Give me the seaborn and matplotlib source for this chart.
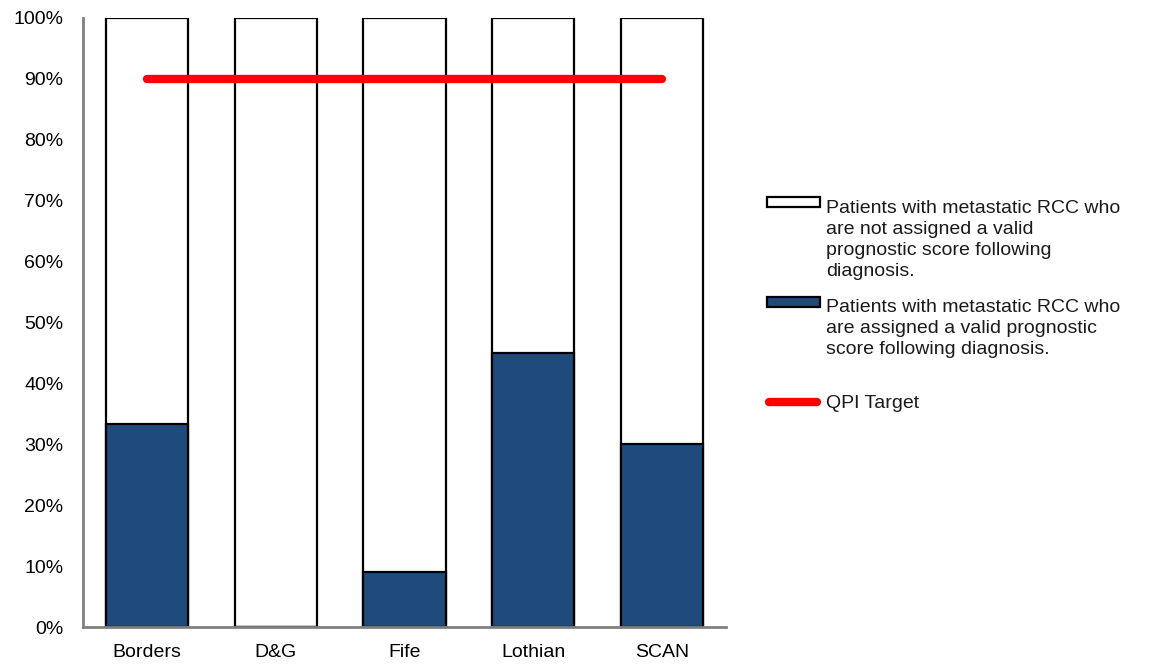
import matplotlib
matplotlib.use("Agg")
import matplotlib.pyplot as plt
import seaborn as sns
import pandas as pd
from matplotlib.patches import Rectangle
from matplotlib.lines import Line2D
from matplotlib.ticker import FuncFormatter

regions = ["Borders", "D&G", "Fife", "Lothian", "SCAN"]
assigned_pct = [33.3, 0.0, 9.1, 45.0, 30.0]
total_pct = [100, 100, 100, 100, 100]
target_pct = [90, 90, 90, 90, 90]
ytick_values = [0, 10, 20, 30, 40, 50, 60, 70, 80, 90, 100]

label_not_assigned = ("Patients with metastatic RCC who\nare not assigned a valid\n"
                      "prognostic score following\ndiagnosis.")
label_assigned = ("Patients with metastatic RCC who\nare assigned a valid prognostic\n"
                  "score following diagnosis.")
label_target = "QPI Target"

sns.set_theme(style="white")
plt.rcParams["font.family"] = ["Liberation Sans", "DejaVu Sans"]

df = pd.DataFrame({"region": regions, "assigned": assigned_pct,
                   "total": total_pct, "target": target_pct})

W, H = 1161, 664
fig = plt.figure(figsize=(W / 100, H / 100), dpi=100)
ax = fig.add_axes([83 / W, 1 - 627 / H, (726 - 83) / W, (627 - 18) / H])

blue = "#1F4A7C"
red = "#FF0000"
sns.barplot(data=df, x="region", y="total", color="white", edgecolor="black",
            linewidth=1.6, width=0.64, saturation=1, ax=ax)
sns.barplot(data=df, x="region", y="assigned", color=blue, edgecolor="black",
            linewidth=1.6, width=0.64, saturation=1, ax=ax)
sns.lineplot(data=df, x="region", y="target", color=red, linewidth=6,
             solid_capstyle="round", ax=ax)

ax.set_ylim(0, 100)
ax.set_xlim(-0.5, 4.5)
ax.set_yticks(ytick_values)
ax.yaxis.set_major_formatter(FuncFormatter(lambda v, _: f"{v:.0f}%"))
ax.set_xlabel("")
ax.set_ylabel("")
ax.tick_params(axis="both", length=0, labelsize=14, colors="black")
ax.tick_params(axis="y", pad=14)
ax.tick_params(axis="x", pad=12)
for side in ["top", "right"]:
    ax.spines[side].set_visible(False)
for side in ["left", "bottom"]:
    ax.spines[side].set_color("#808080")
    ax.spines[side].set_linewidth(2)


def fx(px):
    return px / W


def fy(py):
    return 1 - py / H


# Legend: handle sits beside the first line of each wrapped label
text_x = 826
line_pitch = 21.5
entries = [
    ("patch", "white", label_not_assigned, 202, 212),
    ("patch", blue, label_assigned, 302, 311),
    ("line", red, label_target, 402, 408),
]
for kind, colour, label, hy, first_baseline in entries:
    if kind == "patch":
        fig.add_artist(Rectangle((fx(767), fy(hy + 5)), fx(820) - fx(767),
                                 fy(hy - 5) - fy(hy + 5), transform=fig.transFigure,
                                 facecolor=colour, edgecolor="black", linewidth=1.6))
    else:
        fig.add_artist(Line2D([fx(769), fx(817)], [fy(hy), fy(hy)],
                              transform=fig.transFigure, color=colour, linewidth=6,
                              solid_capstyle="round"))
    n_lines = label.count("\n") + 1
    last_baseline = first_baseline + (n_lines - 1) * line_pitch
    fig.text(fx(text_x), fy(last_baseline), label, fontsize=14, color="#1a1a1a",
             va="baseline", ha="left", linespacing=1.31)

fig.savefig("out.png", dpi=100, facecolor="white")
